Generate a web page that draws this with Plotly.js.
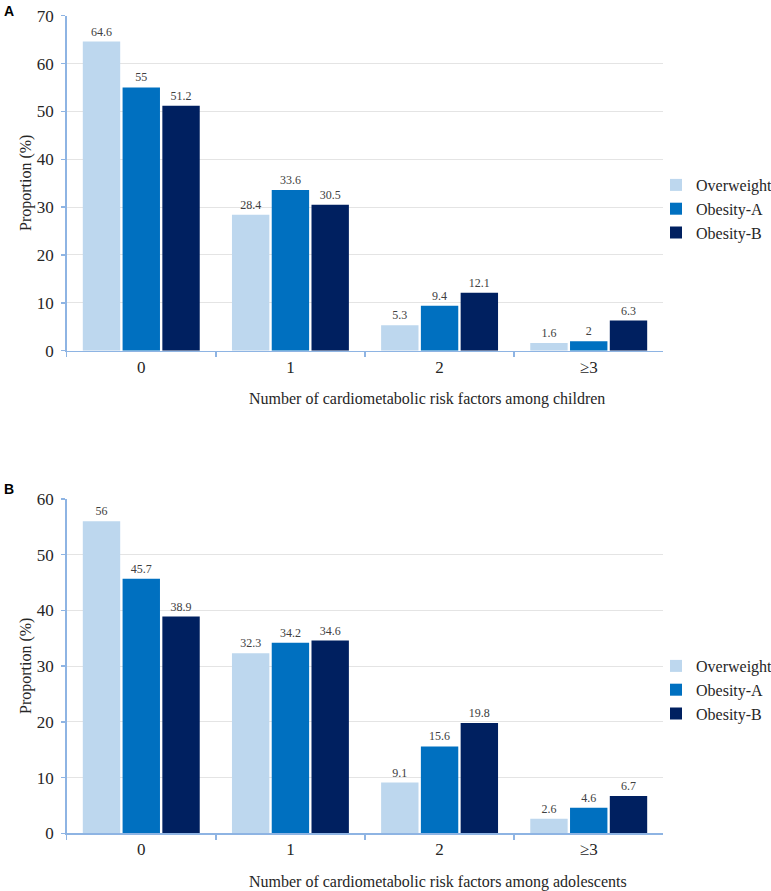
<!DOCTYPE html>
<html><head><meta charset="utf-8">
<script src="https://cdn.plot.ly/plotly-3.0.1.min.js"></script>
<style>body{margin:0;background:#fff}#chart{width:771px;height:891px}</style>
</head><body><div id="chart"></div><script>
const categories = ['0', '1', '2', '≥3'];
const seriesNames = ['Overweight', 'Obesity-A', 'Obesity-B'];
const childrenOverweight = [64.6, 28.4, 5.3, 1.6];
const childrenObesityA = [55, 33.6, 9.4, 2];
const childrenObesityB = [51.2, 30.5, 12.1, 6.3];
const adolOverweight = [56, 32.3, 9.1, 2.6];
const adolObesityA = [45.7, 34.2, 15.6, 4.6];
const adolObesityB = [38.9, 34.6, 19.8, 6.7];
const yTicksA = [0, 10, 20, 30, 40, 50, 60, 70];
const yTicksB = [0, 10, 20, 30, 40, 50, 60];
const colors = ['#BDD7EE', '#0070C0', '#002060'];

const W = 771, H = 891;
const px = v => v / W;
const py = v => 1 - v / H;
const SERIF = 'Liberation Serif, Times New Roman, serif';
const SANS = 'Liberation Sans, Arial, sans-serif';
const AXC = '#8EB4E3';

function mk(vals, i, xa, ya, lg) {
  return {
    type: 'bar', x: categories, y: vals, name: seriesNames[i],
    xaxis: xa, yaxis: ya, legend: lg,
    marker: {color: colors[i], line: {width: 0}},
    text: vals.map(String), textposition: 'outside', cliponaxis: false,
    textfont: {family: SERIF, size: 12, color: '#404040'},
    hoverinfo: 'none'
  };
}
const data = [
  mk(childrenOverweight, 0, 'x', 'y', 'legend'),
  mk(childrenObesityA, 1, 'x', 'y', 'legend'),
  mk(childrenObesityB, 2, 'x', 'y', 'legend'),
  mk(adolOverweight, 0, 'x2', 'y2', 'legend2'),
  mk(adolObesityA, 1, 'x2', 'y2', 'legend2'),
  mk(adolObesityB, 2, 'x2', 'y2', 'legend2')
];

function xa(anchor) {
  return {
    anchor: anchor, domain: [px(66.7), px(663.3)], type: 'category',
    showline: true, linecolor: AXC, linewidth: 1.5,
    ticks: 'outside', tickson: 'boundaries', ticklen: 5, tickcolor: AXC, tickwidth: 1.5,
    tickfont: {family: SERIF, size: 17, color: '#262626'},
    showgrid: false, zeroline: false, fixedrange: true
  };
}
function ya(anchor, dom, max, ticks) {
  return {
    anchor: anchor, domain: dom, range: [0, max],
    tickvals: ticks, ticktext: ticks.map(String),
    showline: true, linecolor: AXC, linewidth: 1.5,
    ticks: 'outside', ticklen: 4, tickcolor: AXC, tickwidth: 1.5,
    tickfont: {family: SERIF, size: 17, color: '#262626'},
    showgrid: true, gridcolor: '#E4E4E4', gridwidth: 1,
    zeroline: false, fixedrange: true, ticklabelstandoff: 4
  };
}

const legendBase = {
  font: {family: SERIF, size: 16, color: '#262626'},
  bgcolor: 'rgba(0,0,0,0)', xanchor: 'left', yanchor: 'top',
  itemclick: false, itemdoubleclick: false, tracegroupgap: 0
};

const layout = {
  width: W, height: H, autosize: false,
  margin: {l: 0, r: 0, t: 0, b: 0, autoexpand: false},
  paper_bgcolor: '#fff', plot_bgcolor: '#fff',
  barmode: 'group', bargap: 0.2, bargroupgap: 0.06,
  showlegend: true,
  xaxis: xa('y'),
  yaxis: ya('x', [py(350.7), py(15.7)], 70, yTicksA),
  xaxis2: xa('y2'),
  yaxis2: ya('x2', [py(833.3), py(499)], 60, yTicksB),
  legend: Object.assign({}, legendBase, {x: px(656), y: py(168)}),
  legend2: Object.assign({}, legendBase, {x: px(656), y: py(649)}),
  annotations: [
    {text: '<b>A</b>', x: px(2), y: py(11.5), xref: 'paper', yref: 'paper', xanchor: 'left', yanchor: 'middle', showarrow: false, font: {family: SANS, size: 14, color: '#000'}},
    {text: '<b>B</b>', x: px(2), y: py(488.5), xref: 'paper', yref: 'paper', xanchor: 'left', yanchor: 'middle', showarrow: false, font: {family: SANS, size: 14, color: '#000'}},
    {text: 'Proportion (%)', textangle: -90, x: px(26), y: py(183), xref: 'paper', yref: 'paper', xanchor: 'center', yanchor: 'middle', showarrow: false, font: {family: SERIF, size: 16, color: '#262626'}},
    {text: 'Proportion (%)', textangle: -90, x: px(26), y: py(666), xref: 'paper', yref: 'paper', xanchor: 'center', yanchor: 'middle', showarrow: false, font: {family: SERIF, size: 16, color: '#262626'}},
    {text: 'Number of cardiometabolic risk factors among children', x: px(247), y: py(399), xref: 'paper', yref: 'paper', xanchor: 'left', yanchor: 'middle', showarrow: false, font: {family: SERIF, size: 16, color: '#262626'}},
    {text: 'Number of cardiometabolic risk factors among adolescents', x: px(247), y: py(882), xref: 'paper', yref: 'paper', xanchor: 'left', yanchor: 'middle', showarrow: false, font: {family: SERIF, size: 16, color: '#262626'}}
  ]
};

Plotly.newPlot('chart', data, layout, {displayModeBar: false, staticPlot: true});
</script></body></html>
